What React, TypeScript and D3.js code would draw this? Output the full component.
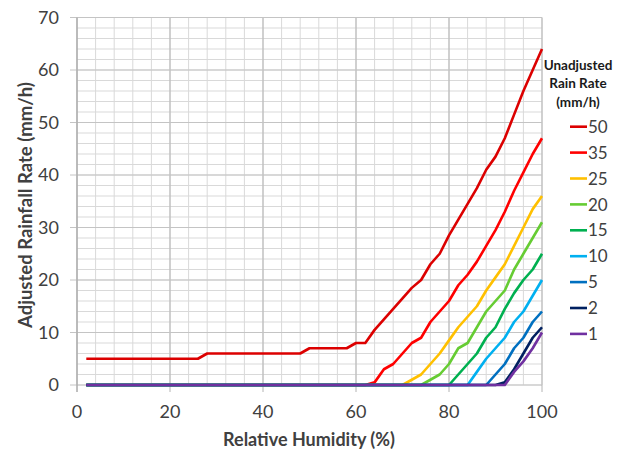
import React from "react";
import * as d3 from "d3";

const humidity = [2, 4, 6, 8, 10, 12, 14, 16, 18, 20, 22, 24, 26, 28, 30, 32, 34, 36, 38, 40, 42, 44, 46, 48, 50, 52, 54, 56, 58, 60, 62, 64, 66, 68, 70, 72, 74, 76, 78, 80, 82, 84, 86, 88, 90, 92, 94, 96, 98, 100];

const rate50 = [5, 5, 5, 5, 5, 5, 5, 5, 5, 5, 5, 5, 5, 6, 6, 6, 6, 6, 6, 6, 6, 6, 6, 6, 7, 7, 7, 7, 7, 8, 8, 10.5, 12.5, 14.5, 16.5, 18.5, 20, 23, 25, 28.5, 31.5, 34.5, 37.5, 41, 43.5, 47, 51.5, 56, 60, 64];
const rate35 = [0, 0, 0, 0, 0, 0, 0, 0, 0, 0, 0, 0, 0, 0, 0, 0, 0, 0, 0, 0, 0, 0, 0, 0, 0, 0, 0, 0, 0, 0, 0, 0.5, 3, 4, 6, 8, 9, 12, 14, 16, 19, 21, 23.5, 26.5, 29.5, 33, 37, 40.5, 44, 47];
const rate25 = [0, 0, 0, 0, 0, 0, 0, 0, 0, 0, 0, 0, 0, 0, 0, 0, 0, 0, 0, 0, 0, 0, 0, 0, 0, 0, 0, 0, 0, 0, 0, 0, 0, 0, 0, 1, 2, 4, 6, 8.5, 11, 13, 15, 18, 20.5, 23, 26.5, 30, 33.5, 36];
const rate20 = [0, 0, 0, 0, 0, 0, 0, 0, 0, 0, 0, 0, 0, 0, 0, 0, 0, 0, 0, 0, 0, 0, 0, 0, 0, 0, 0, 0, 0, 0, 0, 0, 0, 0, 0, 0, 0, 1, 2, 4, 7, 8, 11, 14, 16, 18, 22, 25, 28, 31];
const rate15 = [0, 0, 0, 0, 0, 0, 0, 0, 0, 0, 0, 0, 0, 0, 0, 0, 0, 0, 0, 0, 0, 0, 0, 0, 0, 0, 0, 0, 0, 0, 0, 0, 0, 0, 0, 0, 0, 0, 0, 0, 2, 4, 6, 9, 11, 14.5, 17.5, 20, 22, 25];
const rate10 = [0, 0, 0, 0, 0, 0, 0, 0, 0, 0, 0, 0, 0, 0, 0, 0, 0, 0, 0, 0, 0, 0, 0, 0, 0, 0, 0, 0, 0, 0, 0, 0, 0, 0, 0, 0, 0, 0, 0, 0, 0, 0, 2.5, 5, 7, 9, 12, 14, 17, 20];
const rate5 = [0, 0, 0, 0, 0, 0, 0, 0, 0, 0, 0, 0, 0, 0, 0, 0, 0, 0, 0, 0, 0, 0, 0, 0, 0, 0, 0, 0, 0, 0, 0, 0, 0, 0, 0, 0, 0, 0, 0, 0, 0, 0, 0, 0, 2, 4, 7, 9, 12, 14];
const rate2 = [0, 0, 0, 0, 0, 0, 0, 0, 0, 0, 0, 0, 0, 0, 0, 0, 0, 0, 0, 0, 0, 0, 0, 0, 0, 0, 0, 0, 0, 0, 0, 0, 0, 0, 0, 0, 0, 0, 0, 0, 0, 0, 0, 0, 0, 0.5, 3, 6, 9, 11];
const rate1 = [0, 0, 0, 0, 0, 0, 0, 0, 0, 0, 0, 0, 0, 0, 0, 0, 0, 0, 0, 0, 0, 0, 0, 0, 0, 0, 0, 0, 0, 0, 0, 0, 0, 0, 0, 0, 0, 0, 0, 0, 0, 0, 0, 0, 0, 0, 2.5, 4.5, 7, 10];

const seriesLabels = ["50", "35", "25", "20", "15", "10", "5", "2", "1"];
const seriesValues = [rate50, rate35, rate25, rate20, rate15, rate10, rate5, rate2, rate1];
const seriesColors = ["#DC0000", "#FF0000", "#FFC000", "#66CC33", "#00B050", "#00B0F0", "#0070C0", "#002060", "#7030A0"];

const xTicks = [0, 20, 40, 60, 80, 100];
const yTicks = [0, 10, 20, 30, 40, 50, 60, 70];

const W = 626;
const H = 449;
const FONT = "Lato, 'Open Sans', sans-serif";

export default function App() {
  const x = d3.scaleLinear().domain([0, 100]).range([77, 542]);
  const y = d3.scaleLinear().domain([0, 70]).range([385, 17.5]);
  const xMinor = d3.range(0, 101, 4);
  const yMinor = d3.range(0, 71, 2);
  const line = d3
    .line<[number, number]>()
    .x((d) => x(d[0]))
    .y((d) => y(d[1]));

  return (
    <svg
      width={W}
      height={H}
      style={{ position: "absolute", left: 0, top: 0, background: "#fff" }}
      fontFamily={FONT}
    >
      <rect x={0} y={0} width={W} height={H} fill="#fff" />
      {/* minor grid */}
      {xMinor.map((v) => (
        <line key={"xm" + v} x1={x(v)} x2={x(v)} y1={y(0)} y2={y(70)} stroke="#D9D9D9" strokeWidth={1} />
      ))}
      {yMinor.map((v) => (
        <line key={"ym" + v} x1={x(0)} x2={x(100)} y1={y(v)} y2={y(v)} stroke="#D9D9D9" strokeWidth={1} />
      ))}
      {/* major grid */}
      {xTicks.map((v) => (
        <line key={"xM" + v} x1={x(v)} x2={x(v)} y1={y(0)} y2={y(70)} stroke="#B4B4B4" strokeWidth={1} />
      ))}
      {yTicks.map((v) => (
        <line key={"yM" + v} x1={x(0) - 7} x2={x(100)} y1={y(v)} y2={y(v)} stroke="#C4C4C4" strokeWidth={1} />
      ))}
      {xTicks.map((v) => (
        <line key={"xt" + v} x1={x(v)} x2={x(v)} y1={y(0)} y2={y(0) + 7} stroke="#B4B4B4" strokeWidth={1} />
      ))}
      <line x1={x(0)} x2={x(0)} y1={y(0) + 7} y2={y(70)} stroke="#A6A6A6" strokeWidth={1} />

      {/* series */}
      {seriesValues.map((vals, i) => (
        <path
          key={"s" + i}
          d={line(humidity.map((h, j) => [h, vals[j]] as [number, number])) || ""}
          fill="none"
          stroke={seriesColors[i]}
          strokeWidth={2.6}
          strokeLinejoin="round"
        />
      ))}

      {/* tick labels */}
      {yTicks.map((v) => (
        <text key={"yl" + v} x={59} y={y(v)} dy="0.36em" textAnchor="end" fontSize={18} fill="#404040">
          {v}
        </text>
      ))}
      {xTicks.map((v) => (
        <text key={"xl" + v} x={x(v)} y={412} dy="0.36em" textAnchor="middle" fontSize={18} fill="#404040">
          {v}
        </text>
      ))}

      {/* axis titles */}
      <text x={309} y={440} dy="0.36em" textAnchor="middle" fontSize={18} fontWeight="bold" fill="#404040">
        Relative Humidity (%)
      </text>
      <text
        transform={`translate(25, 205) rotate(-90)`}
        dy="0.36em"
        textAnchor="middle"
        fontSize={18.5}
        fontWeight="bold"
        fill="#404040"
      >
        Adjusted Rainfall Rate (mm/h)
      </text>

      {/* legend */}
      <g fontSize={13.5} fontWeight="bold" fill="#1a1a1a" textAnchor="middle">
        <text x={578} y={65} dy="0.36em">Unadjusted</text>
        <text x={578} y={83} dy="0.36em">Rain Rate</text>
        <text x={578} y={102} dy="0.36em">(mm/h)</text>
      </g>
      {seriesLabels.map((lab, i) => {
        const ly = 126.7 + i * 25.9;
        return (
          <g key={"lg" + i}>
            <line x1={570} x2={587} y1={ly} y2={ly} stroke={seriesColors[i]} strokeWidth={2.6} />
            <text x={588} y={ly} dy="0.36em" fontSize={17} fill="#404040">
              {lab}
            </text>
          </g>
        );
      })}
    </svg>
  );
}
